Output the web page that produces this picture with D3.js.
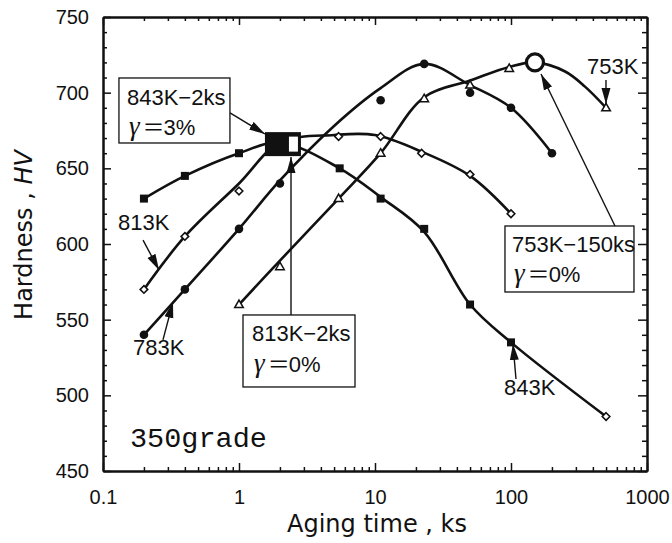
<!DOCTYPE html>
<html><head><meta charset="utf-8">
<script src="https://cdn.jsdelivr.net/npm/d3@7"></script>
<style>body{margin:0;background:#fff}svg{display:block}</style>
</head><body>
<svg id="chart" width="672" height="543"></svg>
<script>
// ---------- data ----------
// 843K (filled squares)
const t843 = [0.2, 0.4, 1, 5.5, 11, 23, 50, 100];
const hv843 = [630, 645, 660, 650, 630, 610, 560, 535];
const t843end = [500];           // last point drawn as open diamond
const hv843end = [486];
const fit843T = [0.2, 0.4, 1, 2, 5.5, 11, 23, 50, 100, 500];
const fit843HV = [630, 645, 660, 667, 650, 631, 608, 560, 535, 486];
// 813K (open diamonds)
const t813 = [0.2, 0.4, 1, 5.4, 11, 22, 50, 100];
const hv813 = [570, 605, 635, 671, 671, 660, 646, 620];
const fit813T = [0.2, 0.4, 1, 2, 5, 10, 22, 50, 100];
const fit813HV = [570, 605, 640, 667, 672, 672, 661, 645, 620];
// 783K (filled circles)
const t783 = [0.2, 0.4, 1, 2, 11, 23, 50, 100, 200];
const hv783 = [540, 570, 610, 640, 695, 719, 700, 690, 660];
const fit783T = [0.2, 0.4, 1, 2, 5, 11, 23, 50, 100, 200];
const fit783HV = [540, 570, 610, 642, 678, 703, 719, 705, 690, 660];
// 753K (open triangles)
const t753 = [1, 2, 5.4, 11, 23, 50, 97, 500];
const hv753 = [560, 585, 630, 660, 696, 705, 716, 690];
const fit753T = [1, 2, 5.4, 11, 23, 50, 97, 150, 250, 350, 500];
const fit753HV = [560, 589, 630, 660, 697, 708, 717, 720, 714, 704, 690];
// highlighted points
const bigSquareT = 2, bigSquareHV = 666;     // 843K-2ks (filled) + 813K-2ks (open)
const bigCircleT = 150, bigCircleHV = 720;   // 753K-150ks

// axes
const xTicks = [0.1, 1, 10, 100, 1000];
const xTickLabels = ["0.1", "1", "10", "100", "1000"];
const yTicks = [450, 500, 550, 600, 650, 700, 750];
const yTickLabels = ["450", "500", "550", "600", "650", "700", "750"];

// annotations (data coordinates)
const boxLabels = [
  {t: 0.131, hv: 709.7, w: 111, h: 65, l1: "843K\u22122ks", l2: "3%", b1: 27, b2: 57, pad: 8},
  {t: 1.07, hv: 553.1, w: 112, h: 72, l1: "813K\u22122ks", l2: "0%", b1: 26, b2: 57, pad: 9},
  {t: 90.3, hv: 611.9, w: 129, h: 66, l1: "753K\u2212150ks", l2: "0%", b1: 26, b2: 56, pad: 7}
];
const arrows = [
  {t0: 0.859, h0: 686.6, t1: 1.552, h1: 672.7},
  {t0: 0.197, h0: 602.6, t1: 0.258, h1: 582.8},
  {t0: 0.276, h0: 536.6, t1: 0.327, h1: 561.7},
  {t0: 2.412, h0: 553.1, t1: 2.412, h1: 657.5},
  {t0: 581.8, h0: 611.9, t1: 166.2, h1: 712.3},
  {t0: 499.4, h0: 708.4, t1: 499.4, h1: 692.5},
  {t0: 108.8, h0: 510.8, t1: 103.4, h1: 533.9}
];
const textLabels = [
  {t: 0.129, hv: 609.3, s: "813K"},
  {t: 0.166, hv: 526.7, s: "783K"},
  {t: 88.8, hv: 500.2, s: "843K"},
  {t: 362, hv: 712.3, s: "753K"}
];
const gradeLabel = {t: 0.158, hv: 465.9, s: "350grade"};

// ---------- drawing ----------
const svg = d3.select('#chart');
const m = {l: 103, r: 647, t: 17, b: 471};
const x = d3.scaleLog().domain([0.1, 1000]).range([m.l, m.r]);
const y = d3.scaleLinear().domain([450, 750]).range([m.b, m.t]);
const ink = '#111';
const sans = "'Liberation Sans', Arial, sans-serif";

svg.append('rect').attr('width', 672).attr('height', 543).attr('fill', '#fff');

const defs = svg.append('defs');
defs.append('marker').attr('id', 'ah').attr('viewBox', '0 -5 16 10')
  .attr('refX', 16).attr('refY', 0).attr('markerWidth', 16).attr('markerHeight', 10)
  .attr('markerUnits', 'userSpaceOnUse').attr('orient', 'auto')
  .append('path').attr('d', 'M0,-4.5L16,0L0,4.5Z').attr('fill', ink);

const xMinor = x.ticks().filter(v => !xTicks.some(k => Math.abs(k - v) < 1e-9));
const yMinor = d3.range(450, 751, 10).filter(v => v % 50 !== 0);

function styleAxis(g) {
  g.selectAll('path.domain').attr('stroke', ink).attr('stroke-width', 2);
  g.selectAll('.tick line').attr('stroke', ink).attr('stroke-width', 1.5);
  g.selectAll('.tick text').attr('font-family', sans).attr('font-size', 20).attr('fill', ink);
}
// bottom
svg.append('g').attr('transform', `translate(0,${m.b})`)
  .call(d3.axisBottom(x).tickValues(xTicks).tickFormat((d, i) => xTickLabels[i])
    .tickSizeInner(-8).tickSizeOuter(0).tickPadding(19)).call(styleAxis);
svg.append('g').attr('transform', `translate(0,${m.b})`)
  .call(d3.axisBottom(x).tickValues(xMinor).tickFormat('').tickSizeInner(-4).tickSizeOuter(0)).call(styleAxis);
// top
svg.append('g').attr('transform', `translate(0,${m.t})`)
  .call(d3.axisTop(x).tickValues(xTicks).tickFormat('').tickSizeInner(-8).tickSizeOuter(0)).call(styleAxis);
svg.append('g').attr('transform', `translate(0,${m.t})`)
  .call(d3.axisTop(x).tickValues(xMinor).tickFormat('').tickSizeInner(-4).tickSizeOuter(0)).call(styleAxis);
// left
svg.append('g').attr('transform', `translate(${m.l},0)`)
  .call(d3.axisLeft(y).tickValues(yTicks).tickFormat((d, i) => yTickLabels[i])
    .tickSizeInner(-8).tickSizeOuter(0).tickPadding(14)).call(styleAxis);
svg.append('g').attr('transform', `translate(${m.l},0)`)
  .call(d3.axisLeft(y).tickValues(yMinor).tickFormat('').tickSizeInner(-4).tickSizeOuter(0)).call(styleAxis);
// right
svg.append('g').attr('transform', `translate(${m.r},0)`)
  .call(d3.axisRight(y).tickValues(yTicks).tickFormat('').tickSizeInner(-9).tickSizeOuter(0)).call(styleAxis);
svg.append('g').attr('transform', `translate(${m.r},0)`)
  .call(d3.axisRight(y).tickValues(yMinor).tickFormat('').tickSizeInner(-5).tickSizeOuter(0)).call(styleAxis);

// axis titles
svg.append('text').attr('x', 377).attr('y', 532).attr('text-anchor', 'middle')
  .attr('font-family', "'DejaVu Sans', sans-serif").attr('font-size', 24).attr('fill', ink)
  .text('Aging time , ks');
const yt = svg.append('text').attr('transform', 'translate(32,235) rotate(-90)')
  .attr('text-anchor', 'middle').attr('font-family', "'DejaVu Sans', sans-serif")
  .attr('font-size', 24).attr('fill', ink);
yt.append('tspan').text('Hardness , ');
yt.append('tspan').attr('font-style', 'italic').text('HV');

// curves
const line = d3.line().x(d => x(d[0])).y(d => y(d[1])).curve(d3.curveCatmullRom.alpha(0.5));
const fits = [[fit843T, fit843HV], [fit813T, fit813HV], [fit783T, fit783HV], [fit753T, fit753HV]];
fits.forEach(([ts, hs]) => {
  svg.append('path').datum(ts.map((t, i) => [t, hs[i]])).attr('d', line)
    .attr('fill', 'none').attr('stroke', ink).attr('stroke-width', 2.6);
});

// markers
const g = svg.append('g');
// filled squares 843K
g.selectAll('rect.s843').data(t843.map((t, i) => [t, hv843[i]])).join('rect')
  .attr('x', d => x(d[0]) - 4).attr('y', d => y(d[1]) - 4).attr('width', 8).attr('height', 8).attr('fill', ink);
// open diamonds (813K and 843K end)
const diamonds = t813.map((t, i) => [t, hv813[i]]).concat(t843end.map((t, i) => [t, hv843end[i]]));
g.selectAll('path.dia').data(diamonds).join('path')
  .attr('d', d => { const cx = x(d[0]), cy = y(d[1]), r = 3.8; return `M${cx},${cy - r}L${cx + r},${cy}L${cx},${cy + r}L${cx - r},${cy}Z`; })
  .attr('fill', '#fff').attr('stroke', ink).attr('stroke-width', 1.6);
// filled circles 783K
g.selectAll('circle.c783').data(t783.map((t, i) => [t, hv783[i]])).join('circle')
  .attr('cx', d => x(d[0])).attr('cy', d => y(d[1])).attr('r', 4.3).attr('fill', ink);
// open triangles 753K
g.selectAll('path.tri').data(t753.map((t, i) => [t, hv753[i]])).join('path')
  .attr('d', d => { const cx = x(d[0]), cy = y(d[1]); return `M${cx},${cy - 4.5}L${cx + 4.3},${cy + 3}L${cx - 4.3},${cy + 3}Z`; })
  .attr('fill', '#fff').attr('stroke', ink).attr('stroke-width', 1.5);

// big composite square at 2 ks
const bx = x(bigSquareT), by = y(bigSquareHV);
g.append('rect').attr('x', bx - 15).attr('y', by - 12).attr('width', 36).attr('height', 24).attr('fill', ink);
g.append('rect').attr('x', bx + 9).attr('y', by - 7.5).attr('width', 9).attr('height', 15).attr('fill', '#fff');
// big open circle at 150 ks
g.append('circle').attr('cx', x(bigCircleT)).attr('cy', y(bigCircleHV)).attr('r', 8.5)
  .attr('fill', '#fff').attr('stroke', ink).attr('stroke-width', 3.2);

// annotation boxes
boxLabels.forEach(b => {
  const bx0 = x(b.t), by0 = y(b.hv);
  svg.append('rect').attr('x', bx0).attr('y', by0).attr('width', b.w).attr('height', b.h)
    .attr('fill', '#fff').attr('stroke', ink).attr('stroke-width', 1.3);
  svg.append('text').attr('x', bx0 + b.pad).attr('y', by0 + b.b1).attr('font-family', sans)
    .attr('font-size', 22).attr('fill', ink).text(b.l1);
  const t2 = svg.append('text').attr('x', bx0 + b.pad + 2).attr('y', by0 + b.b2).attr('font-family', sans)
    .attr('font-size', 22).attr('fill', ink);
  t2.append('tspan').attr('font-family', "'Liberation Serif', serif").attr('font-style', 'italic')
    .attr('font-size', 27).text('\u03B3');
  t2.append('tspan').attr('dx', 3).attr('font-family', "'Noto Sans CJK JP', sans-serif").text('\uFF1D');
  t2.append('tspan').attr('dx', -1).text(b.l2);
});
// arrows
arrows.forEach(a => {
  svg.append('line').attr('x1', x(a.t0)).attr('y1', y(a.h0)).attr('x2', x(a.t1)).attr('y2', y(a.h1))
    .attr('stroke', ink).attr('stroke-width', 1.4).attr('marker-end', 'url(#ah)');
});
// text labels
textLabels.forEach(l => {
  svg.append('text').attr('x', x(l.t)).attr('y', y(l.hv)).attr('font-family', sans)
    .attr('font-size', 22).attr('fill', ink).text(l.s);
});
svg.append('text').attr('x', x(gradeLabel.t)).attr('y', y(gradeLabel.hv))
  .attr('font-family', "'Liberation Mono', 'DejaVu Sans Mono', monospace").attr('font-size', 28.5)
  .attr('fill', ink).text(gradeLabel.s);
</script>
</body></html>
